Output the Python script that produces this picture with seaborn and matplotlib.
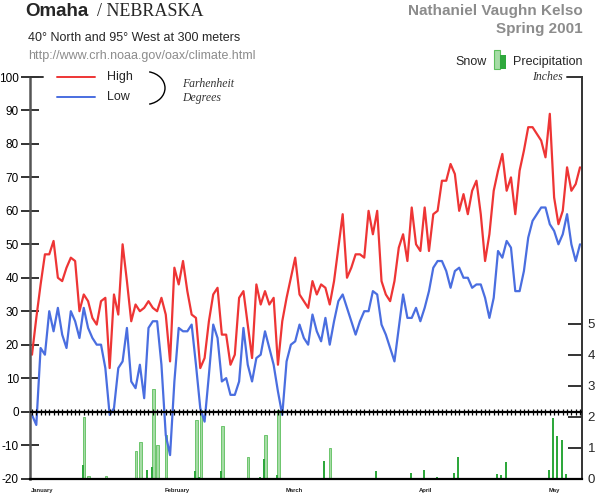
import numpy as np
import pandas as pd
import matplotlib
matplotlib.use("Agg")
import matplotlib.pyplot as plt
import seaborn as sns
from matplotlib.lines import Line2D
from matplotlib.patches import Arc, Rectangle

W, H = 595, 493

# daily record, Jan 1 -> May 8 2001
month_names = ["January", "February", "March", "April", "May"]
month_lengths = [31, 28, 31, 30, 8]

high_f = [17, 28, 38, 47, 47, 51, 40, 39, 43, 46, 45, 30, 35, 33, 28, 26, 33, 34, 13, 35,
          29, 50, 39, 27, 32, 30, 31, 33, 31, 30, 34, 29, 15, 43, 38, 45, 36, 29, 28, 13,
          16, 27, 35, 37, 23, 23, 14, 17, 34, 36, 26, 16, 38, 32, 36, 32, 34, 14, 27, 34,
          40, 46, 35, 33, 31, 39, 35, 38, 37, 32, 39, 49, 59, 40, 43, 47, 47, 46, 60, 53,
          60, 39, 35, 33, 39, 49, 53, 45, 61, 50, 48, 61, 48, 59, 60, 69, 69, 74, 71, 60,
          65, 59, 66, 69, 59, 45, 53, 66, 72, 77, 66, 70, 59, 72, 78, 85, 85, 83, 81, 76,
          89, 64, 56, 60, 73, 66, 68, 73]
low_f = [-1, -4, 19, 17, 30, 24, 31, 23, 19, 30, 27, 22, 31, 25, 22, 20, 20, 13, -1, 1,
         13, 15, 25, 9, 7, 14, 4, 25, 27, 27, 14, -7, -13, 9, 25, 24, 24, 26, 14, 1,
         -3, 11, 26, 22, 9, 10, 5, 5, 9, 25, 14, 9, 16, 17, 24, 19, 14, 6, -1, 15,
         20, 21, 26, 22, 20, 29, 24, 21, 28, 20, 27, 33, 35, 31, 27, 23, 27, 30, 30, 36,
         35, 26, 23, 19, 15, 25, 35, 28, 28, 31, 27, 31, 36, 43, 45, 45, 42, 37, 42, 43,
         40, 40, 37, 38, 38, 34, 28, 34, 48, 46, 51, 49, 36, 36, 42, 52, 57, 59, 61, 61,
         56, 54, 50, 53, 59, 50, 45, 50]

# inches, by day index
precip_day = [10, 12, 24, 27, 28, 31, 38, 39, 44, 51, 53, 54, 57,
              68, 80, 88, 91, 94, 98, 99, 108, 109, 110, 118, 120, 121, 122, 123, 124]
precip_in = [0.03, 0.42, 0.03, 0.28, 0.37, 0.03, 0.23, 0.05, 0.23, 0.03, 0.06, 0.64, 0.10,
             0.56, 0.24, 0.18, 0.26, 0.06, 0.17, 0.71, 0.13, 0.12, 0.53, 0.03, 0.28, 1.95, 1.37, 1.23, 0.15]
snow_day = [12, 13, 17, 24, 25, 28, 29, 31, 38, 39, 44, 50, 54, 57, 69]
snow_in = [1.98, 0.08, 0.08, 0.88, 1.18, 2.9, 1.09, 1.39, 1.9, 2.2, 1.68, 0.69, 1.39, 2.2, 0.99]

RED = "#ee3535"
BLUE = "#4a6ee0"
DARK_GREEN = "#2ea83c"
LIGHT_GREEN = "#a6dca6"
EDGE_GREEN = "#5cbf5c"


def fx(x):
    return x / W


def fy(y):
    return 1 - y / H


sns.set_theme(style="white")
plt.rcParams["font.family"] = ["Liberation Sans", "DejaVu Sans"]
plt.rcParams["axes.unicode_minus"] = False

fig = plt.figure(figsize=(W / 100, H / 100), dpi=100)
fig.patch.set_facecolor("white")
ax = fig.add_axes([fx(30), fy(478.5), fx(582) - fx(30), fy(77) - fy(478.5)])
ax2 = ax.twinx()
ax.set_zorder(ax2.get_zorder() + 1)
ax.patch.set_visible(False)

days = np.arange(len(high_f))
df = pd.DataFrame({"day": days, "High": high_f, "Low": low_f})
long = df.melt(id_vars="day", var_name="series", value_name="temp")
sns.lineplot(data=long, x="day", y="temp", hue="series",
             palette={"High": RED, "Low": BLUE}, linewidth=1.6,
             legend=False, ax=ax)

# zero line with day ticks
ax.axhline(0, color="black", lw=1.6, zorder=3)
ax.plot(days, np.zeros(len(days)), ls="none", marker="|", ms=5, mew=0.9,
        color="black", zorder=3)

# precipitation / snow bars on the inch scale
ax2.bar(np.array(snow_day) + 0.12, snow_in, width=0.55, color=LIGHT_GREEN,
        edgecolor=EDGE_GREEN, linewidth=0.6)
ax2.bar(np.array(precip_day) - 0.25, precip_in, width=0.45, color=DARK_GREEN,
        linewidth=0)

ax.set_xlim(-0.46, 127.46)
ax.set_ylim(-20, 100)
ax2.set_ylim(0, 12.97)

ax.set_yticks(range(-20, 101, 10))
ax.tick_params(axis="y", direction="inout", length=13, width=1.4, color="#333333",
               labelsize=8.5, pad=1.5, labelcolor="black")
ax2.set_yticks([0, 1, 2, 3, 4, 5])
ax2.tick_params(axis="y", direction="in", length=10, width=1.4, color="#333333",
                labelsize=9.5, pad=4)

day_labels = []
for n in month_lengths:
    day_labels += [str(d) for d in range(1, n + 1)]
ax.set_xticks(days)
ax.set_xticklabels(day_labels, fontsize=3.1, color="#333333")
ax.tick_params(axis="x", length=0, pad=1.2)
ax2.set_xticks([])
ax.set_xlabel("")
ax.set_ylabel("")

start = 0
for name, n in zip(month_names, month_lengths):
    ax.text(start - 0.3, -0.024, name, transform=ax.get_xaxis_transform(),
            fontsize=4.2, fontweight="bold", ha="left", va="top", color="#222222")
    start += n

for a in (ax, ax2):
    for s in a.spines.values():
        s.set_visible(False)
ax.spines["left"].set_visible(True)
ax.spines["left"].set_color("#555555")
ax.spines["left"].set_linewidth(1.8)
ax2.spines["right"].set_visible(True)
ax2.spines["right"].set_color("#333333")
ax2.spines["right"].set_linewidth(1.4)
ax.spines["bottom"].set_visible(True)
ax.spines["bottom"].set_color("black")
ax.spines["bottom"].set_linewidth(1.6)

# corner marks at the tops of both scales
fig.add_artist(Line2D([fx(567), fx(582)], [fy(77), fy(77)], color="#333333", lw=1.4))
fig.add_artist(Line2D([fx(30), fx(43)], [fy(77), fy(77)], color="#333333", lw=1.4))

# header texts
fig.text(fx(25), fy(12), "Omaha", fontsize=13.5, fontweight="bold", va="center", ha="left")
fig.text(fx(97), fy(12), "/ NEBRASKA", fontsize=13, va="center", ha="left",
         family=["Liberation Serif", "DejaVu Serif"])
fig.text(fx(28), fy(38), "40\u00b0 North and 95\u00b0 West at 300 meters",
         fontsize=9, va="center", ha="left")
fig.text(fx(28), fy(56), "http://www.crh.noaa.gov/oax/climate.html",
         fontsize=9, va="center", ha="left", color="#8c8c8c")
fig.text(fx(583), fy(11), "Nathaniel Vaughn Kelso", fontsize=11, fontweight="bold",
         va="center", ha="right", color="#8c8c8c")
fig.text(fx(583), fy(29), "Spring 2001", fontsize=11, fontweight="bold",
         va="center", ha="right", color="#8c8c8c")

# temperature key
fig.add_artist(Line2D([fx(57), fx(95)], [fy(77), fy(77)], color=RED, lw=1.4))
fig.add_artist(Line2D([fx(57), fx(95)], [fy(96.5), fy(96.5)], color=BLUE, lw=1.4))
fig.text(fx(107), fy(77), "High", fontsize=9, va="center", ha="left")
fig.text(fx(107), fy(96.5), "Low", fontsize=9, va="center", ha="left")
fig.add_artist(Arc((fx(145), fy(88)), fx(40), 33 / H, theta1=-78, theta2=78,
                   transform=fig.transFigure, color="black", lw=1.0))
fig.text(fx(182), fy(84), "Farhenheit", fontsize=8.5, style="italic", va="center",
         ha="left", color="#333333", family=["Liberation Serif", "DejaVu Serif"])
fig.text(fx(182), fy(98), "Degrees", fontsize=8.5, style="italic", va="center",
         ha="left", color="#333333", family=["Liberation Serif", "DejaVu Serif"])

# precipitation key
fig.text(fx(487), fy(62), "Snow", fontsize=9, va="center", ha="right")
fig.add_artist(Rectangle((fx(493.5), fy(69.5)), fx(6), 19 / H, transform=fig.transFigure,
                         facecolor=LIGHT_GREEN, edgecolor=EDGE_GREEN, lw=0.8))
fig.add_artist(Rectangle((fx(500), fy(69.5)), fx(6), 14 / H, transform=fig.transFigure,
                         facecolor=DARK_GREEN, edgecolor="none"))
fig.text(fx(513), fy(62), "Precipitation", fontsize=9, va="center", ha="left")
fig.text(fx(563), fy(77), "Inches", fontsize=8.5, style="italic", va="center",
         ha="right", color="#333333", family=["Liberation Serif", "DejaVu Serif"])

fig.savefig("out.png", dpi=100, facecolor="white")
